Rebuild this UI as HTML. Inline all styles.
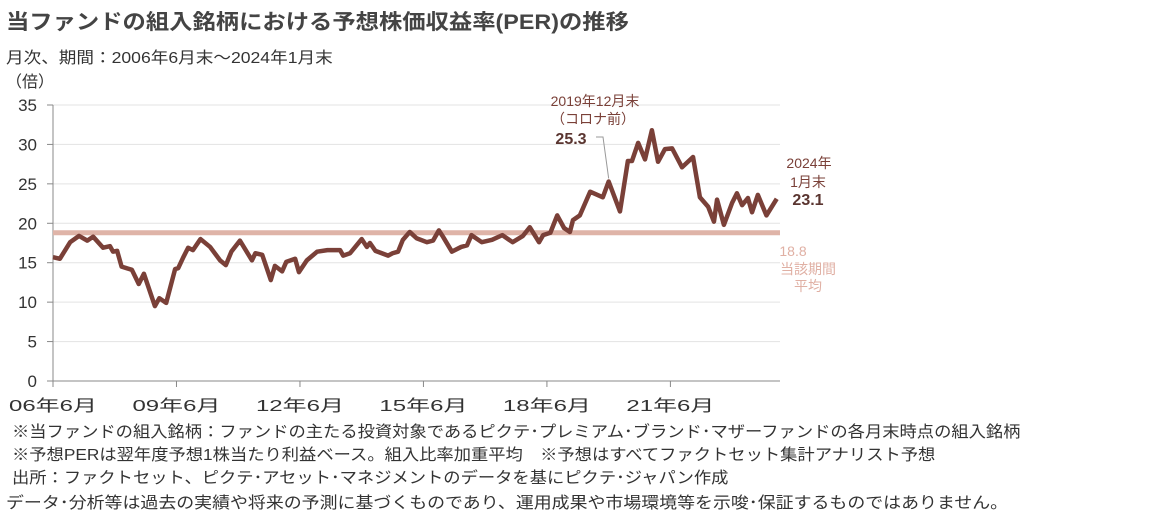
<!DOCTYPE html>
<html><head><meta charset="utf-8">
<style>
body{margin:0;background:#fff;width:1157px;height:515px;overflow:hidden;font-family:"Liberation Sans","Noto Sans CJK JP",sans-serif;color:#333}
.t{position:absolute;white-space:nowrap;transform-origin:0 0}
</style></head><body>
<div class="t" style="left:6px;top:6px;font-size:21px;font-weight:bold;color:#444;transform:scaleX(1.11)">当ファンドの組入銘柄における予想株価収益率(PER)の推移</div>
<div class="t" style="left:6px;top:44px;font-size:16px;transform:scaleX(1.1)">月次、期間：2006年6月末～2024年1月末</div>
<div class="t" style="left:6px;top:68px;font-size:16px">（倍）</div>
<svg id="c" width="1157" height="515" style="position:absolute;left:0;top:0"></svg>
<div class="t" style="left:12px;top:418px;font-size:16px;transform:scaleX(1.08)">※当ファンドの組入銘柄：ファンドの主たる投資対象であるピクテ･プレミアム･ブランド･マザーファンドの各月末時点の組入銘柄</div>
<div class="t" style="left:12px;top:441px;font-size:16px;transform:scaleX(1.08)">※予想PERは翌年度予想1株当たり利益ベース。組入比率加重平均　※予想はすべてファクトセット集計アナリスト予想</div>
<div class="t" style="left:12px;top:464px;font-size:16px;transform:scaleX(1.08)">出所：ファクトセット、ピクテ･アセット･マネジメントのデータを基にピクテ･ジャパン作成</div>
<div class="t" style="left:6px;top:489px;font-size:16px;transform:scaleX(1.12)">データ･分析等は過去の実績や将来の予測に基づくものであり、運用成果や市場環境等を示唆･保証するものではありません。</div>
<script>
const months=[0,2,5,7.6,10,11.7,14.6,16.6,17.5,18.7,20,23,25,26.5,29.7,31,33,35.6,36.5,38,39.4,40.8,43,45.8,48.7,50.4,52,54.5,58,59,61,63.5,64.7,66.8,68,70.6,71.7,74,77,80,83.7,84.6,86.6,90,91.5,92.4,94,97.7,99,100.6,102,104,106,109,110.8,112.5,113.7,116.3,119,120.7,122,125,128,131,134,137,139,141.7,142.9,145,147,149,150.7,151.6,153.6,156.6,160.3,162,165.3,167.6,168.8,170.6,172.6,174.6,176.4,178.4,180.5,183.4,186.6,188.6,191,192.7,193.6,195.6,198,199.4,200.9,202.6,203.8,205.5,208,211];
const values=[15.7,15.5,17.6,18.4,17.8,18.3,16.9,17.1,16.4,16.5,14.5,14.1,12.3,13.6,9.5,10.5,9.9,14.2,14.3,15.7,16.9,16.6,18.0,17.0,15.3,14.7,16.4,17.8,15.3,16.2,16.0,12.8,14.6,13.9,15.1,15.5,13.8,15.3,16.4,16.6,16.6,15.9,16.2,18.0,17.0,17.5,16.5,15.9,16.2,16.4,17.9,18.9,18.1,17.6,17.8,19.1,18.3,16.4,17.0,17.2,18.5,17.6,17.9,18.5,17.6,18.4,19.5,17.6,18.5,18.8,21.0,19.4,18.9,20.4,21.0,24.0,23.3,25.3,21.5,27.9,27.9,30.2,28.1,31.8,27.8,29.4,29.5,27.1,28.4,23.3,22.1,20.2,23.0,19.8,22.6,23.8,22.3,23.2,21.4,23.6,21.0,23.1];
const yTicks=[0,5,10,15,20,25,30,35];
const xTickMonths=[0,36,72,108,144,180];
const xTickLabels=["06年6月","09年6月","12年6月","15年6月","18年6月","21年6月"];
const avgValue=18.8;
const svg=document.getElementById('c');const NS='http://www.w3.org/2000/svg';
const X=m=>53+m*3.43, Y=v=>381-v*7.886;
function mk(t,a,txt){const e=document.createElementNS(NS,t);for(const k in a)e.setAttribute(k,a[k]);if(txt!==undefined)e.textContent=txt;svg.appendChild(e);return e;}
yTicks.forEach(v=>{
 if(v>0){const g=mk('line',{x1:53,x2:780,y1:Y(v),y2:Y(v),stroke:'#e3e3e3','stroke-width':1});
 
 }
 const tk=mk('line',{x1:47,x2:53,y1:Y(v),y2:Y(v),stroke:'#888'});
 
 
 const l=mk('text',{x:37,y:Y(v)+6,'text-anchor':'end','font-size':17,fill:'#333'},v);
 
 
});
const ax=mk('line',{x1:53,x2:53,y1:Y(35),y2:381,stroke:'#888'});


const bx=mk('line',{x1:53,x2:780,y1:381,y2:381,stroke:'#888'});


xTickMonths.forEach((m,i)=>{
 const tk=mk('line',{x1:X(m),x2:X(m),y1:381,y2:387,stroke:'#888'});
 
 
 const l=mk('text',{x:X(m),y:411,'text-anchor':'middle','font-size':16,fill:'#333',textLength:88,lengthAdjust:'spacingAndGlyphs'},xTickLabels[i]);
 
 
});
const av=mk('line',{x1:53,x2:780,y1:Y(avgValue),y2:Y(avgValue),stroke:'#dfb4a8','stroke-width':5});


const pl=mk('polyline',{points:months.map((m,i)=>X(m)+','+Y(values[i])).join(' '),fill:'none',stroke:'#7a4038','stroke-width':4.5,'stroke-linejoin':'round'});


const ci=values.indexOf(25.3);
const ld=mk('polyline',{points:'596,137 603,137 '+X(months[ci])+','+(Y(values[ci])-3),fill:'none',stroke:'#999','stroke-width':1});


[['2019年12月末',595,106,14,'#7a4038','normal'],['（コロナ前）',593,124,14,'#7a4038','normal'],['25.3',571,144,16,'#5a3530','bold'],
 ['2024年',809,168,14,'#7a4038','normal'],['1月末',808,187,14,'#7a4038','normal'],['23.1',808,205,16,'#5a3530','bold'],
 ['18.8',793,256,14,'#e0b0a4','normal'],['当該期間',808,274,14,'#e0b0a4','normal'],['平均',808,291,14,'#e0b0a4','normal']].forEach(a=>{
 const t=mk('text',{x:a[1],y:a[2],'text-anchor':'middle','font-size':a[3],fill:a[4],'font-weight':a[5]},a[0]);
 
 
});
</script>
</body></html>
